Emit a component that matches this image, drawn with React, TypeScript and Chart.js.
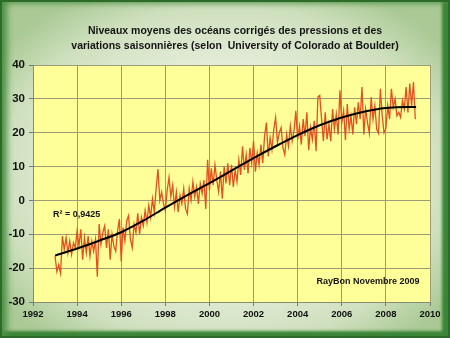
import React, { useEffect, useRef } from "react";
import { Chart, registerables } from "chart.js";

Chart.register(...registerables);

// ---- data ----
const START_YEAR = 1993.0;
const STEP = 1 / 12; // roughly monthly sampling of the series

const y1993 = [-16.5, -21.0, -19.0, -21.5, -10.5, -14.5, -11.0, -15.5, -12.0, -16.0, -12.5, -14.0];
const y1994 = [-9.0, -13.5, -8.5, -17.5, -11.0, -15.5, -10.5, -16.5, -12.0, -15.0, -11.5, -22.5];
const y1995 = [-7.0, -13.0, -9.5, -7.5, -14.0, -8.5, -17.5, -10.0, -13.5, -15.0, -9.0, -5.5];
const y1996 = [-18.0, -8.0, -12.0, -6.0, -4.5, -11.5, -14.0, -7.0, -9.5, -3.8, -10.0, -5.0];
const y1997 = [-7.5, -3.0, -6.5, -1.5, -5.0, 0.5, -3.5, 3.5, 9.3, 0.0, 2.5, -1.0];
const y1998 = [-3.0, 3.0, 6.8, 1.0, 4.5, -2.0, 2.5, -3.5, 1.5, -1.0, 3.5, -2.5];
const y1999 = [-4.0, 3.5, 0.0, 5.5, 1.0, 4.0, -1.0, 5.0, 2.0, 6.0, -2.5, 12.0];
const y2000 = [3.0, 9.5, 4.5, 10.5, 6.0, 2.5, 8.5, 0.5, 10.0, 5.0, 11.0, 4.5];
const y2001 = [10.5, 4.0, 9.0, 5.5, 12.0, 7.5, 16.0, 9.0, 13.5, 8.0, 15.5, 11.0];
const y2002 = [17.5, 8.5, 14.0, 10.5, 16.5, 11.0, 19.0, 23.0, 13.0, 18.5, 15.0, 21.0];
const y2003 = [24.5, 17.0, 20.0, 21.5, 15.5, 13.5, 19.5, 16.0, 22.0, 17.5, 20.5, 26.5];
const y2004 = [18.0, 22.0, 16.5, 24.0, 19.0, 26.0, 14.8, 21.5, 18.0, 23.5, 14.5, 30.5];
const y2005 = [31.0, 24.0, 17.5, 26.0, 18.0, 22.5, 17.5, 27.0, 21.0, 25.5, 19.5, 32.5];
const y2006 = [23.0, 26.5, 17.8, 28.5, 21.0, 25.0, 19.5, 27.5, 22.5, 29.0, 24.0, 33.5];
const y2007 = [19.5, 27.0, 23.0, 19.8, 30.5, 24.0, 28.0, 21.0, 19.8, 33.0, 25.0, 20.0];
const y2008 = [21.2, 28.0, 24.0, 33.0, 27.5, 30.0, 25.0, 26.0, 24.5, 29.5, 27.0, 33.5];
const y2009 = [26.0, 34.5, 28.0, 35.0, 24.0];

const seaLevel = [
  ...y1993, ...y1994, ...y1995, ...y1996, ...y1997, ...y1998, ...y1999, ...y2000,
  ...y2001, ...y2002, ...y2003, ...y2004, ...y2005, ...y2006, ...y2007, ...y2008, ...y2009,
];

// polynomial trend line, read at yearly points
const trendYears = [1993, 1994, 1995, 1996, 1997, 1998, 1999, 2000, 2001, 2002, 2003, 2004, 2005, 2006, 2007, 2008, 2009, 2009.37];
const trendValues = [-16.3, -14.2, -11.9, -9.4, -6.0, -2.1, 1.6, 5.1, 8.8, 12.5, 16.0, 19.3, 22.2, 24.5, 26.2, 27.3, 27.6, 27.6];

const X_MIN = 1992;
const X_MAX = 2010;
const X_STEP = 2;
const Y_MIN = -30;
const Y_MAX = 40;
const Y_STEP = 10;

const TITLE_LINES = [
  "Niveaux moyens des océans corrigés des pressions et des",
  "variations saisonnières (selon  University of Colorado at Boulder)",
];
const R2_LABEL = "R² = 0,9425";
const CREDIT_LABEL = "RayBon Novembre 2009";

const FONT = "'Liberation Sans', Arial, sans-serif";

export default function App() {
  const canvasRef = useRef<HTMLCanvasElement | null>(null);

  useEffect(() => {
    const canvas = canvasRef.current;
    if (!canvas) return;

    const seaPoints = seaLevel.map((v, i) => ({ x: START_YEAR + i * STEP, y: v }));
    const trendPoints = trendYears.map((x, i) => ({ x, y: trendValues[i] }));

    const decor = {
      id: "decor",
      beforeDraw(chart: any) {
        const { ctx, chartArea } = chart;
        ctx.save();
        ctx.fillStyle = "#FFFF99";
        ctx.fillRect(chartArea.left, chartArea.top, chartArea.right - chartArea.left, chartArea.bottom - chartArea.top);
        ctx.restore();
      },
      afterDraw(chart: any) {
        const { ctx } = chart;
        ctx.save();
        ctx.fillStyle = "#141414";
        ctx.textBaseline = "middle";
        ctx.textAlign = "center";
        ctx.font = `bold 10.5px ${FONT}`;
        ctx.fillText(TITLE_LINES[0], 235, 31);
        ctx.fillText(TITLE_LINES[1], 235, 46);
        ctx.font = `bold 9px ${FONT}`;
        ctx.textAlign = "left";
        ctx.fillText(R2_LABEL, 53, 215);
        ctx.textAlign = "center";
        ctx.fillText(CREDIT_LABEL, 368, 282);
        ctx.restore();
      },
    };

    const chart = new Chart(canvas, {
      type: "line",
      data: {
        datasets: [
          {
            data: trendPoints,
            borderColor: "#000000",
            borderWidth: 2,
            pointRadius: 0,
            cubicInterpolationMode: "monotone",
            fill: false,
          },
          {
            data: seaPoints,
            borderColor: "rgb(228,80,30)",
            borderWidth: 1.3,
            pointRadius: 0,
            tension: 0,
            fill: false,
          },
        ],
      },
      options: {
        animation: false,
        responsive: false,
        maintainAspectRatio: false,
        layout: { padding: { top: 65, left: 0, right: 20, bottom: 16 } },
        plugins: {
          legend: { display: false },
          title: { display: false },
          tooltip: { enabled: false },
        },
        scales: {
          x: {
            type: "linear",
            min: X_MIN,
            max: X_MAX,
            ticks: {
              stepSize: X_STEP,
              callback: (v: any) => String(v),
              color: "#111",
              font: { family: FONT, size: 9.5, weight: "bold" },
              padding: 3,
              maxRotation: 0,
            },
            grid: { color: "#9c9c78", lineWidth: 1, tickLength: 4, tickColor: "#777" },
            border: { color: "#8a8a70" },
            afterFit: (s: any) => { s.height = 20; },
          },
          y: {
            min: Y_MIN,
            max: Y_MAX,
            ticks: {
              stepSize: Y_STEP,
              color: "#111",
              font: { family: FONT, size: 11.5, weight: "bold" },
              padding: 4,
            },
            grid: { color: "#9c9c78", lineWidth: 1, tickLength: 4, tickColor: "#777" },
            border: { color: "#8a8a70" },
            afterFit: (s: any) => { s.width = 33; },
          },
        },
      },
      plugins: [decor],
    } as any);

    return () => chart.destroy();
  }, []);

  return (
    <div
      style={{
        position: "fixed",
        left: 0,
        top: 0,
        width: 450,
        height: 338,
        boxSizing: "border-box",
        background:
          "radial-gradient(ellipse 62% 62% at 50% 52%, #f5f8ef 0%, #e9f0df 45%, #cfe0be 80%, #aac995 100%)",
        boxShadow:
          "inset 0 0 0 2px #2c6b2a, inset 7px 3px 6px 0 #4f9146, inset -10px -9px 3px -2px #3a8537",
      }}
    >
      <canvas ref={canvasRef} width={450} height={338} style={{ display: "block" }} />
    </div>
  );
}
